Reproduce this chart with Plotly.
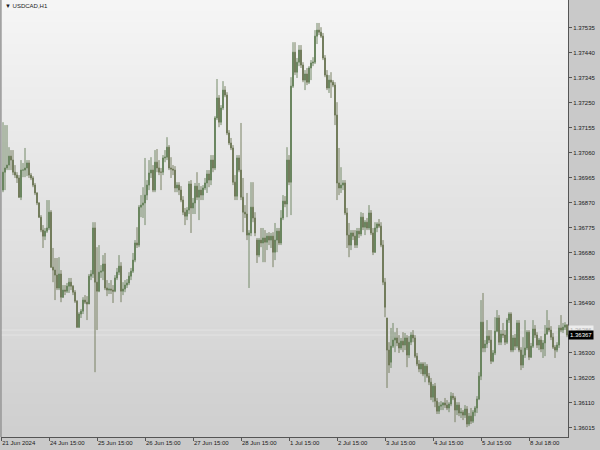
import plotly.graph_objects as go

# ---- data: USDCAD H1 bars, prices in points (1e-5) ----
opens_pts = [
    136918, 136986, 137002, 137013, 137047, 137032, 136986, 136975, 136964, 136891,
    136994, 136994, 137002, 137021, 136975, 136964, 136937, 136907, 136869, 136815,
    136766, 136743, 136762, 136774, 136834, 136625, 136614, 136595, 136546, 136599,
    136511, 136538, 136534, 136553, 136568, 136553, 136530, 136496, 136397, 136447,
    136458, 136500, 136492, 136485, 136591, 136599, 136774, 136568, 136534, 136606,
    136610, 136637, 136546, 136538, 136542, 136538, 136534, 136584, 136606, 136629,
    136534, 136542, 136557, 136565, 136591, 136610, 136652, 136717, 136709, 136853,
    136861, 136869, 136899, 136937, 136983, 136994, 136918, 137024, 137002, 136986,
    136986, 137040, 137043, 137081, 137002, 136998, 136994, 136926, 136937, 136918,
    136880, 136834, 136819, 136842, 136941, 136850, 136869, 136933, 136891, 136918,
    136899, 136926, 136945, 136979, 136956, 137032, 137002, 137192, 137268, 137176,
    137230, 137298, 137279, 137135, 137097, 137078, 136948, 136895, 137040, 136994,
    136891, 136834, 136827, 136747, 136755, 136853, 136812, 136728, 136671, 136728,
    136717, 136736, 136720, 136743, 136728, 136743, 136682, 136728, 136762, 136717,
    136812, 136876, 136865, 137032, 136948, 137313, 137442, 137366, 137404, 137450,
    137393, 137336, 137359, 137328, 137382, 137401, 137404, 137503, 137526, 137518,
    137503, 137420, 137355, 137306, 137336, 137328, 137317, 137203, 136945, 136926,
    136937, 136945, 136831, 136747, 136709, 136755, 136743, 136709, 136762, 136751,
    136815, 136777, 136796, 136774, 136831, 136755, 136682, 136774, 136789, 136781,
    136709, 136568, 136432, 136310, 136264, 136325, 136348, 136356, 136337, 136318,
    136344, 136329, 136356, 136291, 136340, 136367, 136356, 136287, 136257, 136238,
    136257, 136219, 136249, 136211, 136188, 136131, 136173, 136116, 136078, 136097,
    136101, 136109, 136101, 136090, 136105, 136135, 136128, 136082, 136101, 136071,
    136074, 136063, 136086, 136029, 136059, 136040, 136074, 136090, 136124, 136211,
    136416, 136318, 136333, 136363, 136348, 136268, 136299, 136382, 136432, 136340,
    136371, 136367, 136340, 136424, 136447, 136310, 136356, 136325, 136413, 136310,
    136253, 136291, 136318, 136378, 136283, 136325, 136390, 136367, 136329, 136348,
    136314, 136337, 136371, 136394, 136386, 136359, 136321, 136310, 136329, 136394,
    136386, 136397, 136405,
]
highs_pts = [
    137176, 137165, 137165, 137081, 137070, 137070, 137013, 136986, 136975, 137032,
    137021, 137078, 137032, 137032, 136983, 136971, 136945, 136910, 136872, 136823,
    136785, 136774, 136880, 136880, 136842, 136698, 136660, 136660, 136663, 136614,
    136557, 136557, 136565, 136584, 136584, 136557, 136538, 136500, 136454, 136466,
    136511, 136519, 136515, 136599, 136614, 136796, 136796, 136701, 136709, 136633,
    136671, 136679, 136576, 136565, 136576, 136557, 136595, 136622, 136671, 136644,
    136568, 136576, 136580, 136606, 136622, 136679, 136728, 136777, 136861, 136899,
    136929, 137040, 136956, 137032, 137043, 137013, 137070, 137074, 137032, 137002,
    137051, 137070, 137119, 137089, 137043, 137013, 137009, 136948, 136948, 136933,
    136895, 136850, 136853, 136952, 136956, 136888, 136945, 136986, 136945, 136933,
    136937, 136964, 136994, 136994, 137051, 137051, 137199, 137340, 137279, 137241,
    137332, 137313, 137290, 137146, 137116, 137089, 136975, 137051, 137051, 137173,
    136964, 136861, 136907, 136766, 136948, 136948, 136834, 136736, 136736, 136774,
    136774, 136766, 136755, 136758, 136755, 136758, 136793, 136774, 136774, 136842,
    136899, 136895, 137081, 137051, 137347, 137480, 137480, 137420, 137469, 137469,
    137404, 137374, 137382, 137389, 137412, 137423, 137526, 137553, 137553, 137537,
    137515, 137431, 137374, 137355, 137366, 137336, 137328, 137252, 137078, 137005,
    136956, 136956, 136850, 136793, 136766, 136766, 136766, 136774, 136774, 136834,
    136831, 136804, 136812, 136861, 136842, 136774, 136796, 136796, 136808, 136796,
    136728, 136584, 136432, 136340, 136394, 136413, 136378, 136394, 136367, 136356,
    136378, 136375, 136367, 136363, 136378, 136386, 136367, 136299, 136272, 136264,
    136264, 136264, 136257, 136223, 136204, 136181, 136185, 136128, 136112, 136116,
    136112, 136128, 136120, 136112, 136150, 136147, 136135, 136112, 136112, 136090,
    136082, 136101, 136097, 136071, 136090, 136082, 136097, 136135, 136226, 136500,
    136527, 136348, 136424, 136386, 136386, 136310, 136435, 136462, 136443, 136386,
    136413, 136386, 136432, 136454, 136454, 136367, 136371, 136424, 136424, 136321,
    136359, 136424, 136386, 136386, 136337, 136424, 136405, 136378, 136356, 136363,
    136348, 136405, 136462, 136424, 136401, 136375, 136329, 136340, 136405, 136443,
    136413, 136416, 136409,
]
lows_pts = [
    136910, 136918, 136994, 136994, 136994, 136975, 136964, 136945, 136888, 136880,
    136967, 136967, 136971, 136964, 136956, 136929, 136899, 136861, 136812, 136758,
    136698, 136728, 136755, 136766, 136622, 136568, 136500, 136538, 136538, 136492,
    136508, 136519, 136527, 136527, 136538, 136519, 136489, 136394, 136394, 136432,
    136447, 136485, 136424, 136485, 136576, 136584, 136226, 136386, 136530, 136584,
    136576, 136538, 136515, 136523, 136523, 136489, 136530, 136576, 136595, 136492,
    136519, 136530, 136546, 136557, 136576, 136603, 136644, 136698, 136701, 136815,
    136812, 136785, 136880, 136918, 136964, 136910, 136910, 136986, 136975, 136918,
    136975, 137024, 137032, 136994, 136964, 136975, 136910, 136910, 136899, 136872,
    136823, 136785, 136804, 136827, 136755, 136827, 136827, 136880, 136804, 136880,
    136880, 136918, 136907, 136929, 136937, 136986, 136994, 137184, 137157, 137165,
    137222, 137271, 137127, 137089, 137070, 136937, 136880, 136880, 136986, 136880,
    136758, 136812, 136728, 136546, 136743, 136796, 136743, 136641, 136663, 136701,
    136644, 136644, 136690, 136709, 136698, 136625, 136652, 136682, 136709, 136709,
    136804, 136853, 136815, 136937, 136823, 137306, 137355, 137344, 137389, 137382,
    137328, 137298, 137317, 137321, 137336, 137389, 137397, 137473, 137507, 137496,
    137412, 137347, 137298, 137287, 137268, 137309, 137165, 136880, 136899, 136907,
    136918, 136823, 136698, 136663, 136690, 136728, 136698, 136698, 136736, 136743,
    136766, 136747, 136766, 136766, 136747, 136671, 136679, 136758, 136774, 136701,
    136557, 136435, 136166, 136223, 136242, 136318, 136302, 136325, 136299, 136310,
    136302, 136310, 136245, 136280, 136329, 136340, 136280, 136249, 136226, 136219,
    136211, 136188, 136204, 136177, 136120, 136112, 136093, 136067, 136067, 136082,
    136082, 136090, 136082, 136074, 136097, 136120, 136036, 136063, 136059, 136052,
    136044, 136052, 136017, 136021, 136029, 136033, 136059, 136071, 136120, 136196,
    136302, 136302, 136318, 136337, 136257, 136264, 136291, 136378, 136329, 136329,
    136356, 136329, 136333, 136413, 136302, 136302, 136310, 136318, 136302, 136234,
    136242, 136280, 136310, 136272, 136280, 136318, 136356, 136318, 136310, 136302,
    136280, 136287, 136367, 136378, 136348, 136314, 136280, 136302, 136318, 136378,
    136375, 136386, 136359,
]
closes_pts = [
    136986, 137002, 137013, 137047, 137032, 136986, 136975, 136964, 136891, 136994,
    136994, 137002, 137021, 136975, 136964, 136937, 136907, 136869, 136815, 136766,
    136743, 136762, 136774, 136834, 136625, 136614, 136595, 136546, 136599, 136511,
    136538, 136534, 136553, 136568, 136553, 136530, 136496, 136397, 136447, 136458,
    136500, 136492, 136485, 136591, 136599, 136774, 136568, 136534, 136606, 136610,
    136637, 136546, 136538, 136542, 136538, 136534, 136584, 136606, 136629, 136534,
    136542, 136557, 136565, 136591, 136610, 136652, 136717, 136709, 136853, 136861,
    136869, 136899, 136937, 136983, 136994, 136918, 137024, 137002, 136986, 136986,
    137040, 137043, 137081, 137002, 136998, 136994, 136926, 136937, 136918, 136880,
    136834, 136819, 136842, 136941, 136850, 136869, 136933, 136891, 136918, 136899,
    136926, 136945, 136979, 136956, 137032, 137002, 137192, 137268, 137176, 137230,
    137298, 137279, 137135, 137097, 137078, 136948, 136895, 137040, 136994, 136891,
    136834, 136827, 136747, 136755, 136853, 136812, 136755, 136671, 136728, 136717,
    136736, 136720, 136743, 136728, 136743, 136682, 136728, 136762, 136717, 136812,
    136876, 136865, 137032, 136948, 137313, 137442, 137366, 137404, 137450, 137393,
    137336, 137359, 137328, 137382, 137401, 137404, 137503, 137526, 137518, 137503,
    137420, 137355, 137306, 137336, 137328, 137317, 137203, 136945, 136926, 136937,
    136945, 136831, 136747, 136709, 136755, 136743, 136709, 136762, 136751, 136815,
    136777, 136796, 136774, 136831, 136755, 136682, 136774, 136789, 136781, 136709,
    136568, 136473, 136310, 136253, 136325, 136348, 136356, 136337, 136318, 136344,
    136329, 136356, 136291, 136340, 136367, 136356, 136287, 136257, 136238, 136257,
    136219, 136249, 136211, 136188, 136131, 136173, 136116, 136078, 136097, 136101,
    136109, 136101, 136090, 136105, 136135, 136128, 136082, 136101, 136071, 136074,
    136063, 136086, 136029, 136059, 136040, 136074, 136090, 136124, 136211, 136416,
    136318, 136333, 136363, 136348, 136268, 136299, 136382, 136432, 136340, 136371,
    136367, 136340, 136424, 136447, 136310, 136356, 136325, 136413, 136310, 136253,
    136291, 136318, 136378, 136283, 136325, 136390, 136367, 136329, 136348, 136314,
    136337, 136371, 136394, 136386, 136359, 136321, 136310, 136329, 136394, 136386,
    136397, 136405, 136367,
]

time_tick_bars = [-0.9, 23, 47, 71, 95, 119, 143, 167, 191, 215, 239, 263]
time_tick_labels = ["21 Jun 2024", "24 Jun 15:00", "25 Jun 15:00", "26 Jun 15:00",
                    "27 Jun 15:00", "28 Jun 15:00", "1 Jul 15:00", "2 Jul 15:00",
                    "3 Jul 15:00", "4 Jul 15:00", "5 Jul 15:00", "8 Jul 18:00"]
price_ticks = [1.36015, 1.36110, 1.36205, 1.36300, 1.36490, 1.36585, 1.36680,
               1.36775, 1.36870, 1.36965, 1.37060, 1.37155, 1.37250, 1.37345,
               1.37440, 1.37535]
bid_price = 1.36367
ask_price = 1.36386
symbol_title = "USDCAD,H1"

P = 1e-5
opens = [v * P for v in opens_pts]
highs = [v * P for v in highs_pts]
lows = [v * P for v in lows_pts]
closes = [v * P for v in closes_pts]
bars = list(range(len(closes)))

FONT = "Liberation Sans, Arial, sans-serif"

fig = go.Figure(go.Candlestick(
    x=bars, open=opens, high=highs, low=lows, close=closes,
    increasing=dict(line=dict(color="#66805a", width=0.9), fillcolor="#468f3c"),
    decreasing=dict(line=dict(color="#6e7656", width=0.9), fillcolor="#518642"),
    whiskerwidth=0, showlegend=False, hoverinfo="skip",
))

# vertical background gradient of the chart area
shapes = []
N = 40
top_c, bot_c = 245, 207
for k in range(N):
    c = round(bot_c + (top_c - bot_c) * (k + 0.5) / N)
    shapes.append(dict(type="rect", xref="paper", yref="paper",
                       x0=0, x1=1, y0=k / N, y1=min(1.0, (k + 1) / N + 0.012),
                       fillcolor=f"rgb({c},{c},{c})", line=dict(width=0),
                       layer="below"))
# left border
shapes.append(dict(type="line", xref="paper", yref="paper", x0=0, x1=0, y0=0, y1=1,
                   line=dict(color="#7a7a7a", width=1)))
# bid / ask lines
for pr in (ask_price, bid_price):
    shapes.append(dict(type="line", xref="paper", yref="y", x0=0, x1=1, y0=pr, y1=pr,
                       line=dict(color="rgba(255,255,255,0.3)", width=1), layer="below"))

annotations = [
    dict(xref="paper", yref="paper", x=0, y=1, xanchor="left", yanchor="top",
         xshift=2, yshift=-1, showarrow=False,
         text="▼ " + symbol_title, font=dict(family=FONT, size=6, color="#1a1a1a")),
    dict(xref="paper", yref="y", x=1, y=ask_price, xanchor="left", yanchor="middle",
         showarrow=False, text=f"{ask_price:.5f}", bgcolor="#ececec", borderpad=1,
         font=dict(family=FONT, size=6, color="#b4b4b4")),
    dict(xref="paper", yref="y", x=1, y=bid_price, xanchor="left", yanchor="middle",
         showarrow=False, text=f"{bid_price:.5f}", bgcolor="#000000", borderpad=1,
         font=dict(family=FONT, size=6, color="#ffffff")),
]

fig.update_layout(
    width=600, height=450,
    margin=dict(l=1, r=32, t=0, b=13, pad=0),
    paper_bgcolor="#c9c9c9", plot_bgcolor="rgba(0,0,0,0)",
    font=dict(family=FONT, size=6, color="#1a1a1a"),
    shapes=shapes, annotations=annotations,
    xaxis=dict(range=[-1, 282.5], rangeslider=dict(visible=False),
               showgrid=False, zeroline=False, showline=True, linecolor="#555555",
               tickmode="array", tickvals=time_tick_bars, ticktext=time_tick_labels,
               ticks="outside", ticklen=3, tickcolor="#555555",
               ticklabelposition="outside right", tickfont=dict(size=6)),
    yaxis=dict(side="right", range=[1.359797, 1.376403],
               showgrid=False, zeroline=False, showline=True, linecolor="#555555",
               tickmode="array", tickvals=price_ticks,
               ticktext=[f"{v:.5f}" for v in price_ticks],
               ticks="outside", ticklen=3, tickcolor="#555555",
               tickfont=dict(size=6)),
)

fig.write_html("out.html",
               config={"displayModeBar": False, "staticPlot": True},
               post_script="document.body.style.margin='0';"
                           "document.body.style.overflow='hidden';")
